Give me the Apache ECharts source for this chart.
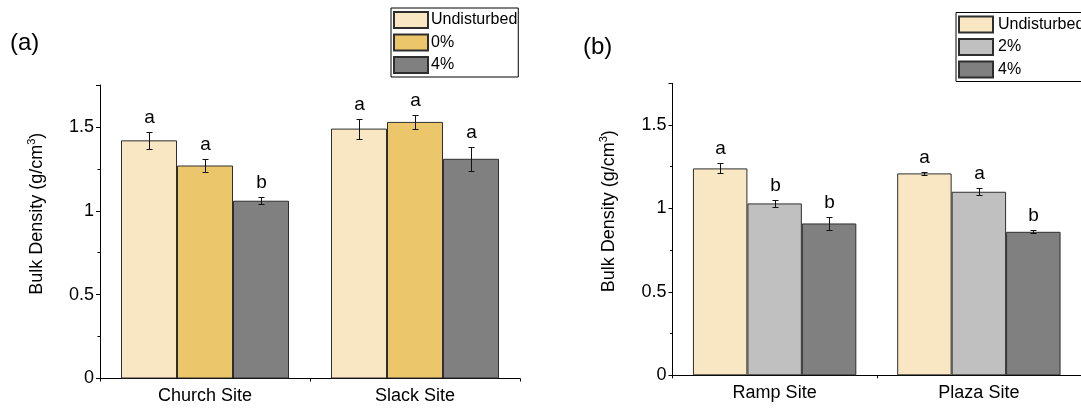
<!DOCTYPE html>
<html>
<head>
<meta charset="utf-8">
<script src="https://cdn.jsdelivr.net/npm/echarts@6/dist/echarts.min.js"></script>
<style>
  html, body { margin: 0; padding: 0; background: #fff; }
  #chart { width: 1081px; height: 410px; }
</style>
</head>
<body>
<div id="chart"></div>
<script>
// ---- Panel (a): Church and Slack sites ----
const sitesA = ['Church Site', 'Slack Site'];
const namesA = ['Undisturbed', '0%', '4%'];
const undisturbedA = [1.42, 1.49];
const zeroPctA = [1.27, 1.53];
const fourPctA = [1.06, 1.31];
const undisturbedErrA = [0.05, 0.06];
const zeroPctErrA = [0.04, 0.04];
const fourPctErrA = [0.02, 0.07];
const undisturbedLetterA = ['a', 'a'];
const zeroPctLetterA = ['a', 'a'];
const fourPctLetterA = ['b', 'a'];

// ---- Panel (b): Ramp and Plaza sites ----
const sitesB = ['Ramp Site', 'Plaza Site'];
const namesB = ['Undisturbed', '2%', '4%'];
const undisturbedB = [1.24, 1.21];
const twoPctB = [1.03, 1.10];
const fourPctB = [0.91, 0.86];
const undisturbedErrB = [0.03, 0.01];
const twoPctErrB = [0.02, 0.02];
const fourPctErrB = [0.04, 0.01];
const undisturbedLetterB = ['a', 'a'];
const twoPctLetterB = ['b', 'a'];
const fourPctLetterB = ['b', 'b'];

// y-axis ticks
const yMin = 0;
const yMax = 1.75;
const yStep = 0.5;

const FONT = "'Liberation Sans', Arial, Helvetica, sans-serif";
const colorMap = {
  'Undisturbed': '#F9E6C2',
  '0%': '#ECC66B',
  '2%': '#C0C0C0',
  '4%': '#808080'
};
const BORDER = '#2e2e2e';

// Error bars with significance letters, drawn through the axis scales
function errorRenderer(k, nBars, errs, letters) {
  return function (params, api) {
    const cat = api.value(0);
    const v = api.value(1);
    const e = errs[params.dataIndex];
    const band = api.size([1, 0])[0];
    const bw = band * 0.8 / nBars;
    let x = api.coord([cat, v])[0] + (k - (nBars - 1) / 2) * bw;
    x = Math.round(x) + 0.5;
    const yTop = Math.round(api.coord([cat, v + e])[1]) + 0.5;
    const yBot = Math.round(api.coord([cat, v - e])[1]) + 0.5;
    const cap = 3;
    const ls = { stroke: '#111', lineWidth: 1 };
    return {
      type: 'group',
      children: [
        { type: 'line', shape: { x1: x, y1: yTop, x2: x, y2: yBot }, style: ls },
        { type: 'line', shape: { x1: x - cap, y1: yTop, x2: x + cap, y2: yTop }, style: ls },
        { type: 'line', shape: { x1: x - cap, y1: yBot, x2: x + cap, y2: yBot }, style: ls },
        {
          type: 'text',
          style: {
            text: letters[params.dataIndex],
            x: x, y: yTop - 5,
            align: 'center', textAlign: 'center',
            verticalAlign: 'bottom', textVerticalAlign: 'bottom',
            fontSize: 19, fontFamily: FONT, fill: '#000'
          }
        }
      ]
    };
  };
}

function panelSeries(xIdx, yIdx, names, means, errs, letters) {
  const out = [];
  names.forEach(function (name, k) {
    out.push({
      type: 'bar',
      name: name,
      xAxisIndex: xIdx,
      yAxisIndex: yIdx,
      data: means[k],
      barGap: '0%',
      barCategoryGap: '20%',
      itemStyle: { color: colorMap[name], borderColor: BORDER, borderWidth: 1 },
      emphasis: { disabled: true }
    });
  });
  names.forEach(function (name, k) {
    out.push({
      type: 'custom',
      xAxisIndex: xIdx,
      yAxisIndex: yIdx,
      data: means[k].map(function (v, i) { return [i, v]; }),
      renderItem: errorRenderer(k, names.length, errs[k], letters[k]),
      clip: false,
      z: 5,
      silent: true
    });
  });
  return out;
}

function categoryAxis(gridIndex, cats) {
  return {
    type: 'category', gridIndex: gridIndex, data: cats, position: 'bottom',
    axisLine: { lineStyle: { color: '#000', width: 1 } },
    axisTick: { alignWithLabel: true, length: 5, lineStyle: { color: '#000' } },
    axisLabel: { color: '#000', fontSize: 18, fontFamily: FONT, margin: 9 },
    splitLine: { show: false }
  };
}

// secondary axis carrying the short ticks between the site groups
function boundaryAxis(gridIndex) {
  return {
    type: 'value', gridIndex: gridIndex, position: 'bottom', min: 0, max: 2, interval: 1,
    axisLine: { show: false },
    axisTick: { show: true, length: 3, lineStyle: { color: '#000' } },
    axisLabel: { show: false },
    splitLine: { show: false }
  };
}

function valueAxis(gridIndex) {
  return {
    type: 'value', gridIndex: gridIndex, min: yMin, max: yMax, interval: yStep,
    name: '{n|Bulk Density (g/cm}{s|3}{n|)}',
    nameLocation: 'middle',
    nameGap: 52,
    nameTextStyle: {
      padding: [0, 0, 0, 36],
      rich: {
        n: { fontSize: 18, fontFamily: FONT, color: '#000', lineHeight: 22 },
        s: { fontSize: 11, fontFamily: FONT, color: '#000', lineHeight: 12, verticalAlign: 'top' }
      }
    },
    axisLine: { show: true, lineStyle: { color: '#000', width: 1 } },
    axisTick: { show: true, length: 4, lineStyle: { color: '#000' } },
    minorTick: { show: true, splitNumber: 2, length: 2.5, lineStyle: { color: '#000' } },
    axisLabel: { color: '#000', fontSize: 18, fontFamily: FONT, margin: 6, showMaxLabel: false },
    splitLine: { show: false }
  };
}

function legendFor(names, left, top, textShift) {
  return {
    data: names,
    orient: 'vertical',
    left: left, top: top,
    icon: 'rect',
    itemWidth: 34, itemHeight: 16, itemGap: 4.5,
    padding: [3, 1, 3, 2],
    borderColor: '#000', borderWidth: 1,
    selectedMode: false,
    textStyle: { color: '#000', fontSize: 16, fontFamily: FONT, padding: [0, 0, 0, textShift] }
  };
}

const option = {
  animation: false,
  backgroundColor: '#fff',
  textStyle: { fontFamily: FONT },
  title: [
    { text: '(a)', left: 5, top: 26, textStyle: { fontSize: 24, fontWeight: 'normal', color: '#000', fontFamily: FONT } },
    { text: '(b)', left: 578, top: 30, textStyle: { fontSize: 24, fontWeight: 'normal', color: '#000', fontFamily: FONT } }
  ],
  legend: [
    legendFor(namesA, 391, 8, -2),
    legendFor(namesB, 956, 12.5, 0)
  ],
  grid: [
    { left: 100, top: 85, width: 420, height: 293.5 },
    { left: 672.5, top: 83.3, width: 414, height: 292 }
  ],
  xAxis: [
    categoryAxis(0, sitesA),
    boundaryAxis(0),
    categoryAxis(1, sitesB),
    boundaryAxis(1)
  ],
  yAxis: [valueAxis(0), valueAxis(1)],
  series: [].concat(
    panelSeries(0, 0, namesA,
      [undisturbedA, zeroPctA, fourPctA],
      [undisturbedErrA, zeroPctErrA, fourPctErrA],
      [undisturbedLetterA, zeroPctLetterA, fourPctLetterA]),
    panelSeries(2, 1, namesB,
      [undisturbedB, twoPctB, fourPctB],
      [undisturbedErrB, twoPctErrB, fourPctErrB],
      [undisturbedLetterB, twoPctLetterB, fourPctLetterB])
  )
};

const chart = echarts.init(document.getElementById('chart'), null, { renderer: 'canvas' });
chart.setOption(option);
</script>
</body>
</html>
